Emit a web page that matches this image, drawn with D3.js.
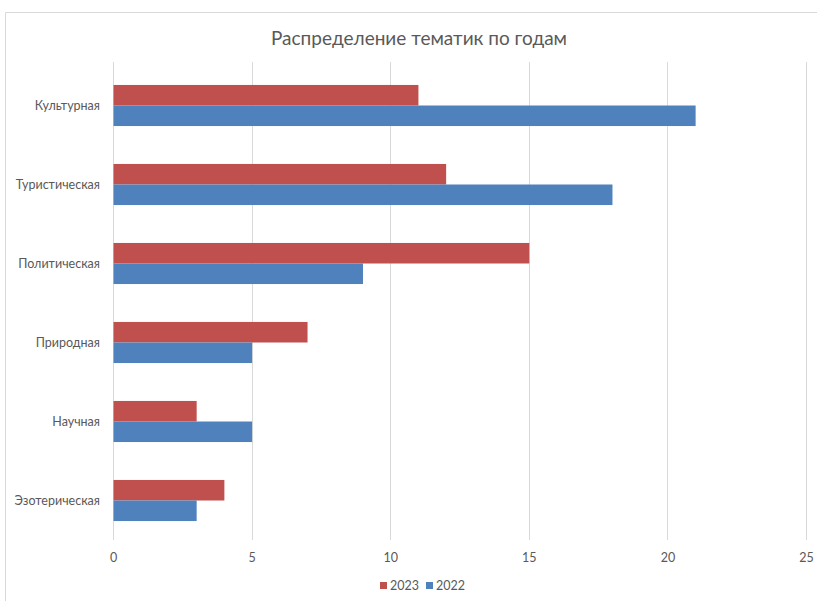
<!DOCTYPE html>
<head>
  <meta charset="utf-8">
  <script src="https://cdn.jsdelivr.net/npm/d3@7/dist/d3.min.js"></script>
  <style>
    body { margin: 0; background: white; }
    text { font-family: Lato, "Open Sans", sans-serif; fill: #595959; }
  </style>
</head>
<body>
  <div id="chart"></div>
  <script>

  // data
  var categories = ["Культурная", "Туристическая", "Политическая", "Природная", "Научная", "Эзотерическая"];
  var values2023 = [11, 12, 15, 7, 3, 4];
  var values2022 = [21, 18, 9, 5, 5, 3];
  var seriesNames = ["2023", "2022"];
  var seriesColors = ["#C0504D", "#4F81BD"];
  var xTicks = [0, 5, 10, 15, 20, 25];
  var chartTitle = "Распределение тематик по годам";

  var width = 817;
  var height = 601;
  var margin = {top: 66, right: 11, bottom: 61, left: 113};

  var svg = d3.select("#chart").append("svg")
    .attr("width", width)
    .attr("height", height);

  // chart area border
  svg.append("path")
    .attr("d", "M5.5," + height + "V12.5H" + width)
    .style("fill", "none")
    .style("stroke", "#d9d9d9")
    .style("stroke-width", 1);

  svg.append("text")
    .attr("x", 419)
    .attr("y", 45)
    .attr("text-anchor", "middle")
    .style("font-size", "19px")
    .text(chartTitle);

  var x = d3.scaleLinear()
    .domain([0, 25])
    .range([margin.left, width - margin.right]);

  var y = d3.scaleBand()
    .domain(categories)
    .range([margin.top, height - margin.bottom])
    .paddingInner(0.48)
    .paddingOuter(0.24);

  var inner = d3.scaleBand()
    .domain(seriesNames)
    .range([0, y.bandwidth()]);

  // grid
  svg.append("g")
    .selectAll("line")
    .data(xTicks)
    .enter()
    .append("line")
    .attr("x1", function(d) { return Math.round(x(d)) + 0.5; })
    .attr("x2", function(d) { return Math.round(x(d)) + 0.5; })
    .attr("y1", 62)
    .attr("y2", height - margin.bottom)
    .style("stroke", "#d9d9d9")
    .style("stroke-width", 1);

  // bars
  var rows = categories.map(function(c, i) {
    return [
      {cat: c, s: seriesNames[0], v: values2023[i], color: seriesColors[0]},
      {cat: c, s: seriesNames[1], v: values2022[i], color: seriesColors[1]}
    ];
  });

  svg.append("g")
    .selectAll("g")
    .data(rows)
    .enter()
    .append("g")
    .selectAll("rect")
    .data(function(d) { return d; })
    .enter()
    .append("rect")
    .attr("x", x(0) + 0.5)
    .attr("y", function(d) { return y(d.cat) + inner(d.s); })
    .attr("width", function(d) { return x(d.v) - x(0); })
    .attr("height", inner.bandwidth())
    .style("fill", function(d) { return d.color; });

  // axes
  var xAxis = svg.append("g")
    .attr("transform", "translate(0," + (height - margin.bottom) + ")")
    .call(d3.axisBottom(x).tickValues(xTicks).tickSize(0).tickPadding(13));
  xAxis.select(".domain").remove();
  xAxis.selectAll("text").style("font-size", "12.5px").style("fill", "#595959");

  var yAxis = svg.append("g")
    .attr("transform", "translate(" + margin.left + ",0)")
    .call(d3.axisLeft(y).tickSize(0).tickPadding(13));
  yAxis.select(".domain").remove();
  yAxis.selectAll("text").style("font-size", "12.5px").style("fill", "#595959");

  // legend
  var legend = svg.append("g")
    .attr("transform", "translate(380,586)");
  var items = legend.selectAll("g")
    .data(seriesNames)
    .enter()
    .append("g")
    .attr("transform", function(d, i) { return "translate(" + (i * 46) + ",0)"; });
  items.append("rect")
    .attr("x", 0)
    .attr("y", -4)
    .attr("width", 7)
    .attr("height", 7)
    .style("fill", function(d, i) { return seriesColors[i]; });
  items.append("text")
    .attr("x", 10)
    .attr("y", 0)
    .attr("dy", "0.35em")
    .style("font-size", "12.5px")
    .text(function(d) { return d; });

  </script>
</body>
